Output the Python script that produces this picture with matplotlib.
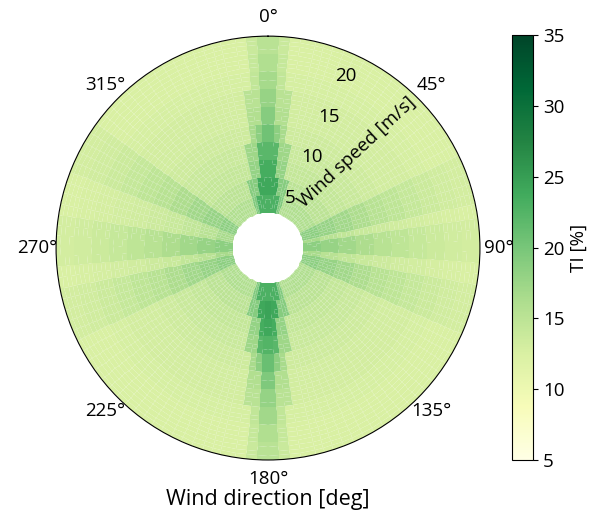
import numpy as np
import matplotlib
matplotlib.use("Agg")
import matplotlib.pyplot as plt

plt.rcParams['font.family'] = ['Open Sans', 'DejaVu Sans']
plt.rcParams['font.size'] = 13.5

# wind speed bands [m/s]
ws_edges = [4, 6, 8, 10, 12, 14, 16, 18, 20, 22, 24]

# wind direction sectors [deg], clockwise from north
wd_edges = [-18, -13, -9, -6, -3, 3, 6, 9, 13, 18, 64, 78, 82, 94, 100, 114,
            162, 167, 171, 174, 177, 183, 186, 189, 193, 198,
            244, 259, 265, 279, 291, 306, 342]

# TI [%] per direction sector (rows) and wind speed band (columns)
ti_table = [
    [19.5, 19.0, 14.3, 13.8, 13.5, 13.2, 13.0, 12.8, 12.6, 12.5],  # -18..-13
    [23.0, 19.0, 18.0, 17.2, 13.5, 13.2, 13.0, 12.8, 12.6, 12.5],  # -13..-9
    [23.0, 24.0, 18.0, 17.2, 16.5, 15.8, 15.2, 12.8, 12.6, 12.5],  # -9..-6
    [23.0, 24.0, 23.5, 22.0, 18.5, 15.8, 15.2, 14.6, 14.2, 13.8],  # -6..-3
    [23.0, 24.0, 23.5, 22.0, 20.5, 19.0, 17.8, 16.8, 16.0, 15.3],  # -3..3
    [23.0, 24.0, 23.5, 22.0, 18.5, 15.8, 15.2, 14.6, 14.2, 13.8],  # 3..6
    [23.0, 24.0, 18.0, 17.2, 16.5, 15.8, 15.2, 12.8, 12.6, 12.5],  # 6..9
    [23.0, 19.0, 18.0, 17.2, 13.5, 13.2, 13.0, 12.8, 12.6, 12.5],  # 9..13
    [19.5, 19.0, 14.3, 13.8, 13.5, 13.2, 13.0, 12.8, 12.6, 12.5],  # 13..18
    [16.0, 15.0, 14.3, 13.8, 13.5, 13.2, 13.0, 12.8, 12.6, 12.5],  # 18..64
    [18.5, 17.8, 17.0, 16.2, 15.4, 14.8, 14.2, 13.7, 13.3, 13.0],  # 64..78
    [16.5, 15.3, 14.5, 14.0, 13.6, 13.3, 13.1, 12.9, 12.7, 12.6],  # 78..82
    [18.5, 17.8, 17.0, 16.2, 15.4, 14.8, 14.2, 13.7, 13.3, 13.0],  # 82..94
    [16.5, 15.3, 14.5, 14.0, 13.6, 13.3, 13.1, 12.9, 12.7, 12.6],  # 94..100
    [18.5, 17.8, 17.0, 16.2, 15.4, 14.8, 14.2, 13.7, 13.3, 13.0],  # 100..114
    [16.0, 15.0, 14.3, 13.8, 13.5, 13.2, 13.0, 12.8, 12.6, 12.5],  # 114..162
    [19.5, 19.0, 14.3, 13.8, 13.5, 13.2, 13.0, 12.8, 12.6, 12.5],  # 162..167
    [23.0, 19.0, 18.0, 17.2, 13.5, 13.2, 13.0, 12.8, 12.6, 12.5],  # 167..171
    [23.0, 24.0, 18.0, 17.2, 16.5, 15.8, 15.2, 12.8, 12.6, 12.5],  # 171..174
    [23.0, 24.0, 23.5, 22.0, 18.5, 15.8, 15.2, 14.6, 14.2, 13.8],  # 174..177
    [23.0, 24.5, 24.0, 22.5, 21.0, 19.5, 18.0, 17.0, 16.0, 15.3],  # 177..183
    [23.0, 24.0, 23.5, 22.0, 18.5, 15.8, 15.2, 14.6, 14.2, 13.8],  # 183..186
    [23.0, 24.0, 18.0, 17.2, 16.5, 15.8, 15.2, 12.8, 12.6, 12.5],  # 186..189
    [23.0, 19.0, 18.0, 17.2, 13.5, 13.2, 13.0, 12.8, 12.6, 12.5],  # 189..193
    [19.5, 19.0, 14.3, 13.8, 13.5, 13.2, 13.0, 12.8, 12.6, 12.5],  # 193..198
    [16.0, 15.0, 14.3, 13.8, 13.5, 13.2, 13.0, 12.8, 12.6, 12.5],  # 198..244
    [18.5, 17.8, 17.0, 16.2, 15.4, 14.8, 14.2, 13.7, 13.3, 13.0],  # 244..259
    [16.5, 15.3, 14.5, 14.0, 13.6, 13.3, 13.1, 12.9, 12.7, 12.6],  # 259..265
    [18.5, 17.8, 17.0, 16.2, 15.4, 14.8, 14.2, 13.7, 13.3, 13.0],  # 265..279
    [16.5, 15.3, 14.5, 14.0, 13.6, 13.3, 13.1, 12.9, 12.7, 12.6],  # 279..291
    [18.5, 17.8, 17.0, 16.2, 15.4, 14.8, 14.2, 13.7, 13.3, 13.0],  # 291..306
    [16.0, 15.0, 14.3, 13.8, 13.5, 13.2, 13.0, 12.8, 12.6, 12.5],  # 306..342
]

ti_min, ti_max = 5, 35
r_ticks = [5, 10, 15, 20]


def refine(edges, step):
    """split every bin into sub-cells of roughly `step` width"""
    fine, counts = [edges[0]], []
    for lo, hi in zip(edges[:-1], edges[1:]):
        n = max(1, int(round((hi - lo) / step)))
        fine.extend(np.linspace(lo, hi, n + 1)[1:])
        counts.append(n)
    return np.array(fine), counts


wd_fine, wd_counts = refine(wd_edges, 3.0)
ws_fine, ws_counts = refine(ws_edges, 0.5)
ti = np.array(ti_table)
ti = np.repeat(ti, wd_counts, axis=0)
ti = np.repeat(ti, ws_counts, axis=1)

fig = plt.figure(figsize=(6.06, 5.22), dpi=100)
ax = fig.add_axes([0.0924, 0.1188, 0.6997, 0.812], projection='polar')
ax.set_theta_zero_location('N')
ax.set_theta_direction(-1)

theta, r = np.meshgrid(np.deg2rad(wd_fine), ws_fine, indexing='ij')
mesh = ax.pcolormesh(theta, r, ti, cmap='YlGn', vmin=ti_min, vmax=ti_max,
                     shading='flat', antialiased=True, linewidth=0)

ax.set_ylim(0, 24)
ax.set_yticks(r_ticks)
ax.grid(False)
ax.tick_params(axis='x', pad=3)

fig.text(357 / 606, 1 - 152 / 522, 'Wind speed [m/s]', rotation=43,
         ha='center', va='center')
fig.text(268 / 606, 1 - 500 / 522, 'Wind direction [deg]', fontsize=15.5,
         ha='center', va='center')

cax = fig.add_axes([0.845, 0.1188, 0.0347, 0.814])
cb = fig.colorbar(mesh, cax=cax, ticks=[5, 10, 15, 20, 25, 30, 35])
cb.set_label('TI [%]')

fig.savefig('out.png', dpi=100)
